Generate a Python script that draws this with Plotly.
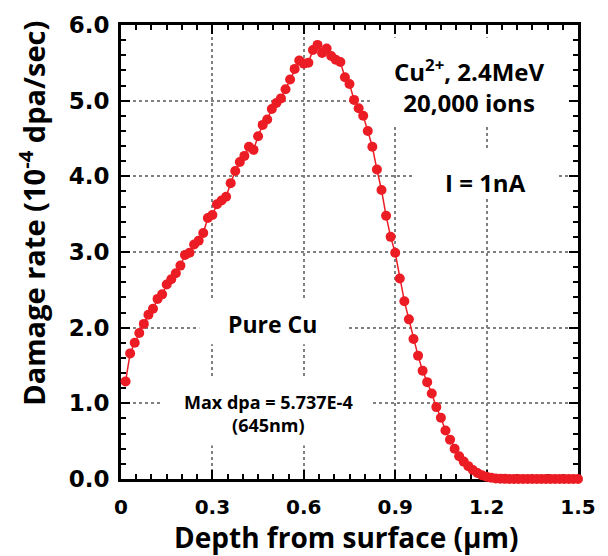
import plotly.graph_objects as go

# Depth (µm)
depth = [0.015, 0.030, 0.045, 0.060, 0.075, 0.090, 0.105, 0.120, 0.135, 0.150,
         0.165, 0.180, 0.195, 0.210, 0.225, 0.240, 0.255, 0.270, 0.285, 0.300,
         0.315, 0.330, 0.345, 0.360, 0.375, 0.390, 0.405, 0.420, 0.435, 0.450,
         0.465, 0.480, 0.495, 0.510, 0.525, 0.540, 0.555, 0.570, 0.585, 0.600,
         0.615, 0.630, 0.645, 0.660, 0.675, 0.690, 0.705, 0.720, 0.735, 0.750,
         0.765, 0.780, 0.795, 0.810, 0.825, 0.840, 0.855, 0.870, 0.885, 0.900,
         0.915, 0.930, 0.945, 0.960, 0.975, 0.990, 1.005, 1.020, 1.035, 1.050,
         1.065, 1.080, 1.095, 1.110, 1.125, 1.140, 1.155, 1.170, 1.185, 1.200,
         1.215, 1.230, 1.245, 1.260, 1.275, 1.290, 1.305, 1.320, 1.335, 1.350,
         1.365, 1.380, 1.395, 1.410, 1.425, 1.440, 1.455, 1.470, 1.485, 1.500]

# Damage rate (1e-4 dpa/sec)
damage_rate = [1.29, 1.66, 1.80, 1.93, 2.05, 2.17, 2.25, 2.38, 2.44, 2.57,
               2.64, 2.72, 2.82, 2.96, 2.99, 3.10, 3.15, 3.25, 3.45, 3.49,
               3.63, 3.68, 3.73, 3.91, 4.07, 4.19, 4.27, 4.39, 4.35, 4.53,
               4.68, 4.75, 4.89, 4.97, 5.03, 5.15, 5.28, 5.42, 5.53, 5.49,
               5.50, 5.67, 5.737, 5.63, 5.69, 5.59, 5.54, 5.51, 5.31, 5.22,
               5.01, 4.90, 4.80, 4.60, 4.39, 4.09, 3.82, 3.48, 3.20, 2.99,
               2.65, 2.35, 2.11, 1.85, 1.63, 1.43, 1.28, 1.13, 0.95, 0.81,
               0.64, 0.52, 0.40, 0.30, 0.23, 0.17, 0.12, 0.08, 0.05, 0.03,
               0.016, 0.008, 0.004, 0.002, 0.001, 0.001, 0.0, 0.0, 0.0, 0.0,
               0.0, 0.0, 0.0, 0.0, 0.0, 0.0, 0.0, 0.0, 0.0, 0.0]

x_tick_vals = [0, 0.3, 0.6, 0.9, 1.2, 1.5]
x_tick_text = ["0", "0.3", "0.6", "0.9", "1.2", "1.5"]
y_tick_vals = [0, 1, 2, 3, 4, 5, 6]
y_tick_text = ["0.0", "1.0", "2.0", "3.0", "4.0", "5.0", "6.0"]

RED = "#EC1C24"
TXT = "Open Sans"
TICKF = "DejaVu Sans"

fig = go.Figure()
fig.add_trace(go.Scatter(
    x=depth, y=damage_rate, mode="lines+markers",
    line=dict(color=RED, width=1.5),
    marker=dict(color=RED, size=10),
    cliponaxis=False,
))

axis_common = dict(
    ticks="inside", ticklen=9, tickwidth=2, tickcolor="black",
    showline=True, linewidth=3, linecolor="black", mirror="allticks",
    showgrid=True, gridcolor="#808080", gridwidth=1.5, griddash="dot",
    zeroline=False, layer="below traces",
)

fig.update_xaxes(
    range=[0, 1.5], tickmode="array", tickvals=x_tick_vals, ticktext=x_tick_text,
    tickfont=dict(family=TICKF, size=20, color="black", weight="bold"),
    minor=dict(tickmode="linear", tick0=0, dtick=0.05, ticks="inside", ticklen=5,
               tickwidth=2, tickcolor="black", showgrid=False),
    ticklabelstandoff=8,
    **axis_common,
)
fig.update_yaxes(
    range=[0, 6], tickmode="array", tickvals=y_tick_vals, ticktext=y_tick_text,
    tickfont=dict(family=TICKF, size=23, color="black", weight="bold"),
    minor=dict(tickmode="linear", tick0=0, dtick=0.2, ticks="inside", ticklen=5,
               tickwidth=2, tickcolor="black", showgrid=False),
    ticklabelstandoff=4,
    **axis_common,
)

def bold(size):
    return dict(family=TXT, size=size, color="black", weight="bold")

annotations = [
    dict(text="Damage rate (10<sup>-4</sup> dpa/sec)", xref="paper", yref="paper",
         x=-0.195, y=0.586, textangle=-90, showarrow=False,
         xanchor="center", yanchor="middle", font=bold(29)),
    dict(text="Depth from surface (µm)", xref="paper", yref="paper",
         x=0.492, y=-0.128, showarrow=False,
         xanchor="center", yanchor="middle", font=bold(28)),
    dict(text="Cu<sup>2+</sup>, 2.4MeV<br>20,000 ions", xref="x", yref="y",
         x=1.142, y=5.20, showarrow=False,
         xanchor="center", yanchor="middle", font=bold(24)),
    dict(text="I = 1nA", xref="x", yref="y",
         x=1.198, y=3.92, showarrow=False,
         xanchor="center", yanchor="middle", font=bold(24)),
    dict(text="Pure Cu", xref="x", yref="y",
         x=0.498, y=2.046, showarrow=False,
         xanchor="center", yanchor="middle", font=bold(23)),
    dict(text="Max dpa = 5.737E-4<br>(645nm)", xref="x", yref="y",
         x=0.485, y=0.863, showarrow=False,
         xanchor="center", yanchor="middle", font=bold(18)),
]

# white gaps in the gridlines behind the text labels (drawn below the data)
gap_boxes = [
    (0.817, 1.477, 4.667, 5.83),
    (0.963, 1.435, 3.71, 4.34),
    (0.257, 0.739, 1.78, 2.37),
    (0.137, 0.827, 0.444, 1.36),
]
shapes = [dict(type="rect", xref="x", yref="y", x0=a, x1=b, y0=c, y1=d,
               fillcolor="white", line=dict(width=0), layer="between")
          for a, b, c, d in gap_boxes]

fig.update_layout(
    width=608, height=556,
    margin=dict(l=121, r=26, t=20, b=77),
    plot_bgcolor="white", paper_bgcolor="white",
    showlegend=False,
    annotations=annotations,
    shapes=shapes,
)

fig.write_html("out.html")
